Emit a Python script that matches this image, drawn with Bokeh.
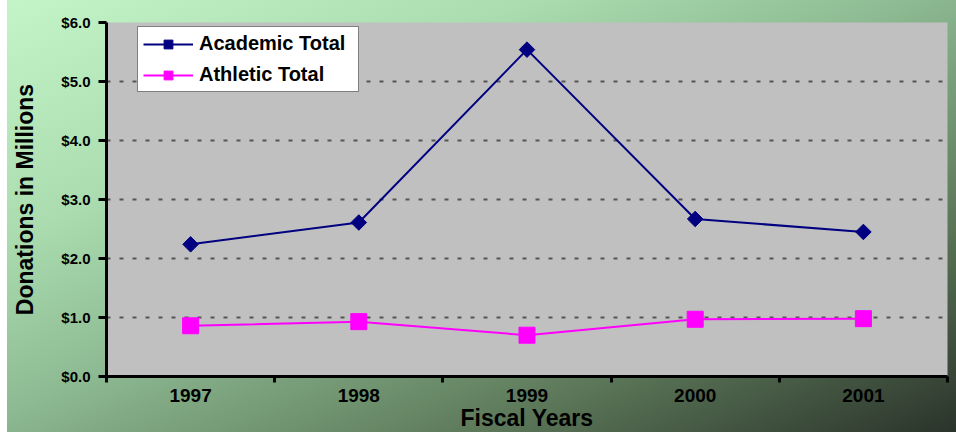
import numpy as np
from bokeh.plotting import figure
from bokeh.models import (Range1d, FixedTicker, Legend, LegendItem, ColumnDataSource)
from bokeh.embed import file_html
from bokeh.resources import INLINE

# ---- data ----
years = ["1997", "1998", "1999", "2000", "2001"]
academic = [2.24, 2.61, 5.54, 2.67, 2.45]
athletic = [0.86, 0.93, 0.70, 0.97, 0.98]
y_ticks = [0, 1, 2, 3, 4, 5, 6]
y_labels = ["$0.0", "$1.0", "$2.0", "$3.0", "$4.0", "$5.0", "$6.0"]

x_pos = [i + 0.5 for i in range(len(years))]
bounds = list(range(len(years) + 1))

FONT = "Liberation Sans"

p = figure(width=956, height=433, output_backend="svg", toolbar_location=None,
           x_range=Range1d(0, len(years)), y_range=Range1d(y_ticks[0], y_ticks[-1]),
           min_border_left=106, min_border_right=9, min_border_top=22, min_border_bottom=56)

p.background_fill_color = "#c0c0c0"
p.border_fill_alpha = 0
p.outline_line_color = None
p.styles = {"background": (
    "linear-gradient(to right, #ffffff 7px, rgba(255,255,255,0) 7px), "
    "linear-gradient(to top, #ffffff 1px, rgba(255,255,255,0) 1px), "
    "linear-gradient(to bottom right, #c4f5c8 0%, #aadcaf 28%, #8dba92 48%, #62805f 72%, #2a332a 100%)")}

src = ColumnDataSource(dict(x=x_pos, academic=academic, athletic=athletic))

l1 = p.line("x", "academic", source=src, line_color="#000080", line_width=2)
m1 = p.scatter("x", "academic", source=src, marker="square", angle=np.pi / 4, size=11,
               fill_color="#000080", line_color="#000080")
l2 = p.line("x", "athletic", source=src, line_color="#ff00ff", line_width=2)
m2 = p.scatter("x", "athletic", source=src, marker="square", size=16,
               fill_color="#ff00ff", line_color="#ff00ff")

# x axis
xa = p.xaxis[0]
xa.ticker = FixedTicker(ticks=x_pos, minor_ticks=bounds)
xa.major_label_overrides = {x: y for x, y in zip(x_pos, years)}
xa.major_tick_out = 0
xa.major_tick_in = 0
xa.minor_tick_out = 6
xa.minor_tick_in = 0
xa.minor_tick_line_width = 3
xa.minor_tick_line_color = "black"
xa.axis_line_width = 3
xa.axis_line_color = "black"
xa.major_label_standoff = 6
xa.major_label_text_font = FONT
xa.major_label_text_font_style = "bold"
xa.major_label_text_font_size = "19px"
xa.major_label_text_color = "black"
xa.axis_label = "Fiscal Years"
xa.axis_label_text_font = FONT
xa.axis_label_text_font_style = "bold"
xa.axis_label_text_font_size = "23px"
xa.axis_label_text_color = "black"
xa.axis_label_standoff = 0

# y axis
ya = p.yaxis[0]
ya.ticker = FixedTicker(ticks=y_ticks)
ya.major_label_overrides = {t: s for t, s in zip(y_ticks, y_labels)}
ya.major_tick_out = 8
ya.major_tick_in = 0
ya.minor_tick_out = 0
ya.minor_tick_in = 0
ya.major_tick_line_width = 3
ya.major_tick_line_color = "black"
ya.axis_line_width = 3
ya.axis_line_color = "black"
ya.major_label_standoff = 8
ya.major_label_text_font = FONT
ya.major_label_text_font_style = "bold"
ya.major_label_text_font_size = "15px"
ya.major_label_text_color = "black"
ya.axis_label = "Donations in Millions"
ya.axis_label_text_font = FONT
ya.axis_label_text_font_style = "bold"
ya.axis_label_text_font_size = "23px"
ya.axis_label_text_color = "black"
ya.axis_label_standoff = 20

# grid
p.xgrid.grid_line_color = None
p.ygrid.ticker = FixedTicker(ticks=y_ticks)
p.ygrid.grid_line_color = "#555555"
p.ygrid.grid_line_width = 2
p.ygrid.grid_line_dash = "4 9"

legend = Legend(items=[LegendItem(label="Academic Total", renderers=[l1, m1]),
                       LegendItem(label="Athletic Total", renderers=[l2, m2])],
                location=(31, 284))
legend.background_fill_color = "white"
legend.background_fill_alpha = 1
legend.border_line_color = "black"
legend.border_line_width = 1
legend.padding = 5
legend.spacing = 8
legend.margin = 0
legend.glyph_width = 50
legend.glyph_height = 22
legend.label_height = 22
legend.label_standoff = 6
legend.label_width = 154
legend.label_text_font = FONT
legend.label_text_font_style = "bold"
legend.label_text_font_size = "20px"
legend.label_text_color = "black"
p.add_layout(legend)

open("out.html", "w").write(file_html(p, INLINE))
